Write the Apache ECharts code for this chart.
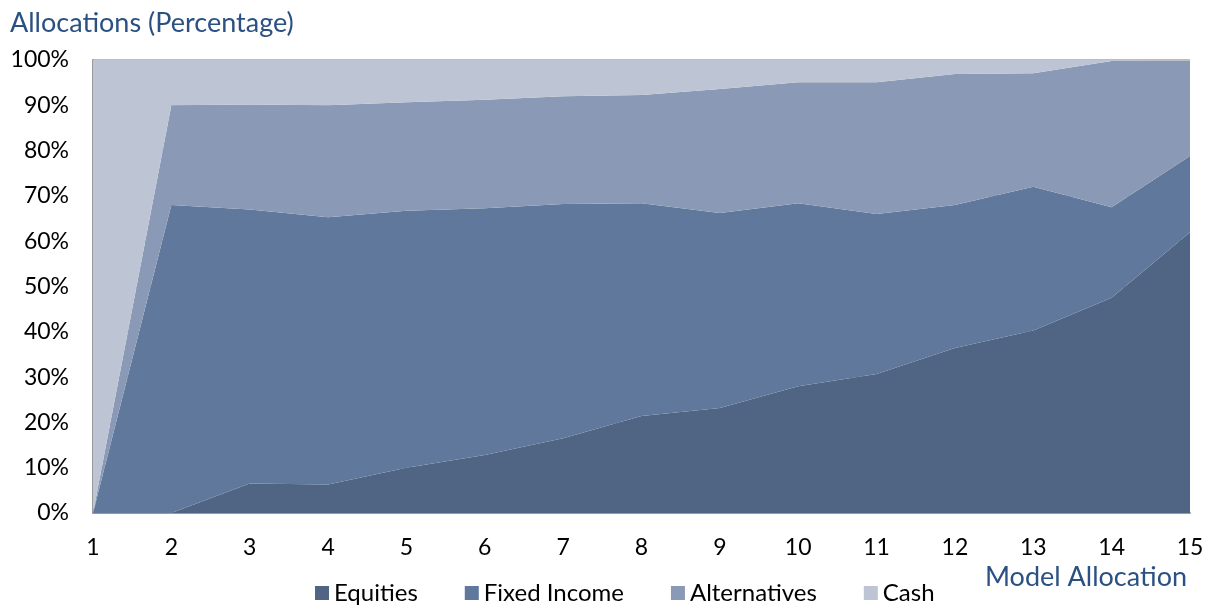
<!DOCTYPE html>
<html>
<head>
<meta charset="utf-8">
<script src="https://cdn.jsdelivr.net/npm/echarts@6/dist/echarts.min.js"></script>
<style>html,body{margin:0;padding:0;background:#fff}#c{width:1210px;height:606px}</style>
</head>
<body>
<div id="c"></div>
<script>
const categories = ['1','2','3','4','5','6','7','8','9','10','11','12','13','14','15'];
const equities    = [0, 0, 6.5, 6.3, 10, 12.8, 16.5, 21.4, 23.2, 28, 30.7, 36.4, 40.3, 47.5, 62];
const fixedIncome = [0, 68, 60.5, 59, 56.7, 54.5, 51.7, 47, 43, 40.4, 35.3, 31.6, 31.7, 20, 16.8];
const alternatives= [0, 22, 23.2, 24.7, 24, 23.9, 23.8, 23.9, 27.4, 26.7, 29.1, 28.9, 25.1, 32.3, 21];
const cash        = [100, 10, 9.8, 10, 9.3, 8.8, 8, 7.7, 6.4, 4.9, 4.9, 3.1, 2.9, 0.2, 0.2];
const seriesNames = ['Equities', 'Fixed Income', 'Alternatives', 'Cash'];
const colors = ['#506584', '#60789b', '#8a9ab6', '#bdc4d4'];
const FONT = 'Lato, "Open Sans", sans-serif';

const chart = echarts.init(document.getElementById('c'), null, {renderer: 'canvas'});
const dataSets = [equities, fixedIncome, alternatives, cash];
chart.setOption({
  animation: false,
  color: colors,
  textStyle: {fontFamily: FONT},
  title: [
    {text: 'Allocations (Percentage)', left: 5, top: 5,
     textStyle: {fontFamily: FONT, fontSize: 27, fontWeight: 'normal', color: '#2b5183'}},
    {text: 'Model Allocation', right: 18, top: 559,
     textStyle: {fontFamily: FONT, fontSize: 27, fontWeight: 'normal', color: '#2b5183'}}
  ],
  legend: {
    left: 315, top: 578, padding: 0, icon: 'rect', itemWidth: 14, itemHeight: 14, itemGap: 47,
    textStyle: {fontFamily: FONT, fontSize: 24, color: '#000', lineHeight: 30},
    data: seriesNames
  },
  grid: {left: 93, right: 20, top: 60, bottom: 93, containLabel: false},
  xAxis: {
    type: 'category', data: categories, boundaryGap: false,
    axisLine: {show: true, lineStyle: {color: '#9a9a9a', width: 2}},
    axisTick: {show: false},
    axisLabel: {fontFamily: FONT, fontSize: 23, color: '#000', margin: 23},
    splitLine: {show: false}
  },
  yAxis: {
    type: 'value', min: 0, max: 100, interval: 10,
    axisLine: {show: true, lineStyle: {color: '#9a9a9a', width: 2}},
    axisTick: {show: false},
    axisLabel: {fontFamily: FONT, fontSize: 23, color: '#000', margin: 24, formatter: '{value}%'},
    splitLine: {show: true, lineStyle: {color: '#bdbdbd', width: 2}}
  },
  series: seriesNames.map((n, i) => ({
    name: n, type: 'line', stack: 'total', data: dataSets[i],
    showSymbol: false, symbol: 'none',
    lineStyle: {width: 0},
    areaStyle: {color: colors[i], opacity: 1},
    itemStyle: {color: colors[i]}
  }))
});
</script>
</body>
</html>
